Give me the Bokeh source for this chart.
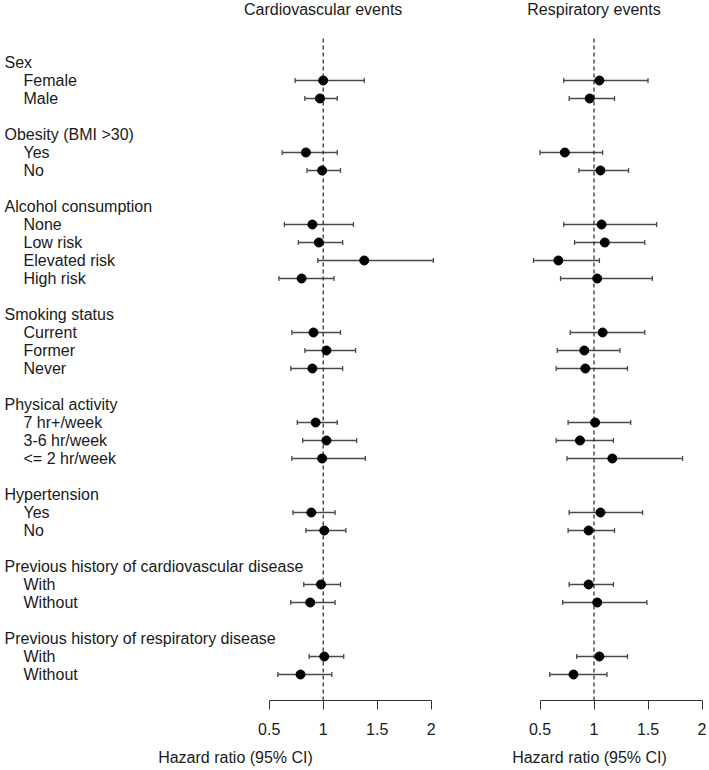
from bokeh.plotting import figure
from bokeh.models import Range1d, LinearAxis, FixedTicker, ColumnDataSource, Whisker, TeeHead
from bokeh.layouts import row
from bokeh.embed import file_html
from bokeh.resources import INLINE
from bokeh.core.properties import value

# ---------------- data ----------------
groups = ["Sex", "Obesity (BMI >30)", "Alcohol consumption", "Smoking status",
          "Physical activity", "Hypertension",
          "Previous history of cardiovascular disease",
          "Previous history of respiratory disease"]
items = [["Female", "Male"],
         ["Yes", "No"],
         ["None", "Low risk", "Elevated risk", "High risk"],
         ["Current", "Former", "Never"],
         ["7 hr+/week", "3-6 hr/week", "<= 2 hr/week"],
         ["Yes", "No"],
         ["With", "Without"],
         ["With", "Without"]]

cardio_hr = [1.00, 0.97, 0.84, 0.99, 0.90, 0.96, 1.38, 0.80, 0.91, 1.03, 0.90,
             0.93, 1.03, 0.99, 0.89, 1.01, 0.98, 0.88, 1.01, 0.79]
cardio_lo = [0.74, 0.83, 0.62, 0.85, 0.64, 0.77, 0.95, 0.59, 0.71, 0.83, 0.70,
             0.76, 0.81, 0.71, 0.72, 0.84, 0.82, 0.70, 0.87, 0.58]
cardio_hi = [1.38, 1.13, 1.13, 1.16, 1.28, 1.18, 2.02, 1.10, 1.16, 1.30, 1.18,
             1.13, 1.31, 1.39, 1.11, 1.21, 1.16, 1.11, 1.19, 1.08]

resp_hr = [1.05, 0.96, 0.73, 1.06, 1.07, 1.10, 0.67, 1.03, 1.08, 0.91, 0.92,
           1.01, 0.87, 1.17, 1.06, 0.95, 0.95, 1.03, 1.05, 0.81]
resp_lo = [0.72, 0.77, 0.50, 0.86, 0.72, 0.82, 0.44, 0.69, 0.78, 0.66, 0.65,
           0.76, 0.65, 0.75, 0.77, 0.76, 0.77, 0.71, 0.84, 0.59]
resp_hi = [1.50, 1.19, 1.08, 1.32, 1.58, 1.47, 1.05, 1.54, 1.47, 1.24, 1.31,
           1.34, 1.18, 1.82, 1.45, 1.19, 1.18, 1.49, 1.31, 1.12]

panel_titles = ["Cardiovascular events", "Respiratory events"]
tick_values = [0.5, 1.0, 1.5, 2.0]
tick_labels = ["0.5", "1", "1.5", "2"]
axis_title = "Hazard ratio (95% CI)"
REF_HR = 1.0

# ---------------- layout / style ----------------
FONT = "Liberation Sans"
FS = "16px"
TXT = "#1a1a1a"
ERR = "#4a4a4a"
PAGE_M = 0
ROW_PX = 18
FIRST_ROW_Y = 62
AXIS_Y = 700
DASH_TOP_Y = 38
PX_PER_UNIT = 108
LEFT_W, RIGHT_W, H = 470, 238, 768
BOTTOM = H - (AXIS_Y - PAGE_M)
LEFT_REF_X, RIGHT_REF_X = 322.7, 593.5

# build row indices
label_rows, label_text, label_kind = [], [], []
data_rows = []
r = 0
for g, its in zip(groups, items):
    label_rows.append(r); label_text.append(g); label_kind.append(0)
    r += 1
    for it in its:
        label_rows.append(r); label_text.append(it); label_kind.append(1)
        data_rows.append(r)
        r += 1
    r += 1

y_top = (PAGE_M - FIRST_ROW_Y) / ROW_PX
y_bot = (AXIS_Y - FIRST_ROW_Y) / ROW_PX
dash_top = (DASH_TOP_Y - FIRST_ROW_Y) / ROW_PX


def panel(width, frame_left, ref_x, hr, lo, hi, title, with_labels):
    x0 = REF_HR + (frame_left - ref_x) / PX_PER_UNIT
    x1 = x0 + width / PX_PER_UNIT
    p = figure(width=width, height=H, x_range=Range1d(x0, x1),
               y_range=Range1d(y_bot, y_top), output_backend="svg",
               toolbar_location=None, x_axis_location=None, y_axis_location=None,
               min_border_left=0, min_border_right=0, min_border_top=0,
               min_border_bottom=BOTTOM, outline_line_color=None,
               background_fill_color="white", border_fill_color="white")
    p.grid.visible = False

    ax = LinearAxis(bounds=(tick_values[0], tick_values[-1]),
                    ticker=FixedTicker(ticks=tick_values, minor_ticks=[]),
                    axis_label=axis_title)
    ax.major_label_overrides = {v: l for v, l in zip(tick_values, tick_labels)}
    ax.axis_line_color = "#333333"
    ax.major_tick_line_color = "#333333"
    ax.major_tick_out = 9
    ax.major_tick_in = 0
    ax.minor_tick_line_color = None
    ax.major_label_standoff = 13
    ax.major_label_text_font = FONT
    ax.major_label_text_font_size = FS
    ax.major_label_text_color = TXT
    ax.axis_label_text_font = FONT
    ax.axis_label_text_font_size = FS
    ax.axis_label_text_font_style = "normal"
    ax.axis_label_text_color = TXT
    ax.axis_label_standoff = 11
    p.add_layout(ax, "below")

    # reference line
    p.segment(x0=[REF_HR], y0=[dash_top], x1=[REF_HR], y1=[y_bot],
              line_color="#222222", line_width=1.2, line_dash="4 3")

    src = ColumnDataSource(dict(y=data_rows, hr=hr, lo=lo, hi=hi))
    w = Whisker(base="y", lower="lo", upper="hi", dimension="width", source=src,
                line_color=ERR, line_width=1.3,
                upper_head=TeeHead(size=5, line_color=ERR, line_width=1.3),
                lower_head=TeeHead(size=5, line_color=ERR, line_width=1.3))
    p.add_layout(w)
    p.scatter("hr", "y", source=src, size=9, color="black")

    p.text(x=[REF_HR], y=[y_top], text=[title], text_align="center",
           text_baseline="top", text_font=value(FONT), text_font_size=value(FS),
           text_color=TXT)

    if with_labels:
        lsrc = ColumnDataSource(dict(
            x=[x0] * len(label_rows), y=label_rows, t=label_text,
            xo=[4 if k == 0 else 23 for k in label_kind]))
        p.text(x="x", y="y", text="t", x_offset="xo", source=lsrc,
               text_align="left", text_baseline="middle",
               text_font=value(FONT), text_font_size=value(FS), text_color=TXT)
    return p


p1 = panel(LEFT_W, PAGE_M, LEFT_REF_X, cardio_hr, cardio_lo, cardio_hi,
           panel_titles[0], True)
p2 = panel(RIGHT_W, PAGE_M + LEFT_W, RIGHT_REF_X, resp_hr, resp_lo, resp_hi,
           panel_titles[1], False)

layout = row(p1, p2)
open("out.html", "w").write(file_html(layout, INLINE))
